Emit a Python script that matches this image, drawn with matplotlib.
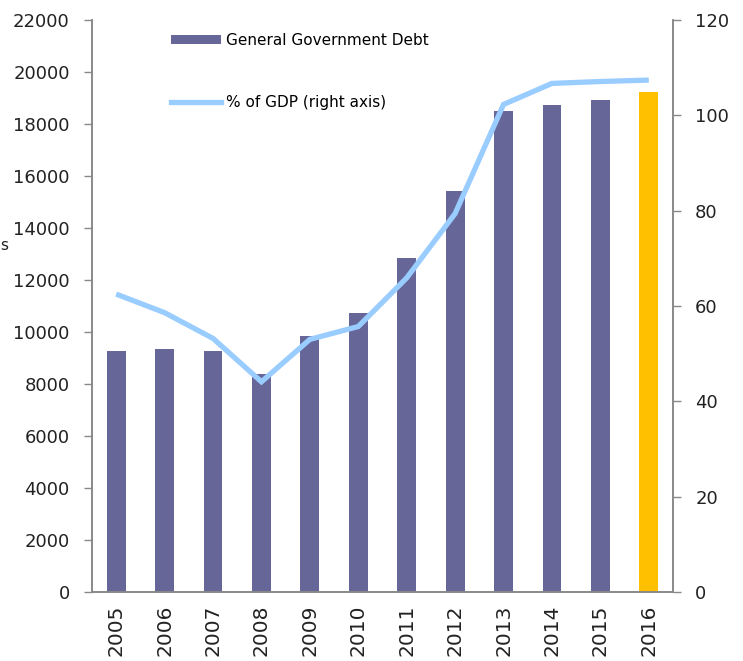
import matplotlib
matplotlib.use("Agg")
import matplotlib.pyplot as plt
from matplotlib.patches import Patch
from matplotlib.lines import Line2D

years = ["2005", "2006", "2007", "2008", "2009", "2010",
         "2011", "2012", "2013", "2014", "2015", "2016"]
debt = [9270, 9340, 9270, 8380, 9840, 10730,
        12850, 15410, 18500, 18720, 18910, 19250]
pct_gdp = [62.5, 58.6, 53.2, 44.1, 53.0, 55.7,
           65.9, 79.4, 102.3, 106.7, 107.1, 107.4]

bar_color = "#666699"
last_color = "#FFC000"
line_color = "#99CCFF"
axis_color = "#898989"

plt.rcParams["font.family"] = ["DejaVu Sans"]

fig = plt.figure(figsize=(7.43, 6.61), dpi=100)
ax = fig.add_axes([0.1238, 0.1044, 0.7820, 0.8653])
ax2 = ax.twinx()

x = list(range(len(years)))
colors = [bar_color] * (len(years) - 1) + [last_color]
ax.bar(x, debt, width=0.39, color=colors, zorder=2)
ax2.plot(x, pct_gdp, color=line_color, lw=3.8, solid_capstyle="butt",
         solid_joinstyle="miter", zorder=3)

ax.set_xlim(-0.5, len(years) - 0.5)
ax.set_ylim(0, 22000)
ax.set_yticks(range(0, 22001, 2000))
ax2.set_ylim(0, 120)
ax2.set_yticks(range(0, 121, 20))

ax.set_xticks(x)
ax.set_xticklabels(years, rotation=90, fontsize=14.5, color="#222222")
ax.tick_params(axis="x", length=0, pad=9)
ax.tick_params(axis="y", labelsize=13, colors=axis_color, labelcolor="#222222",
               length=6, width=1, direction="out", pad=10)
ax2.tick_params(axis="y", labelsize=13, colors=axis_color, labelcolor="#222222",
                length=6, width=1, direction="out", pad=10)

for a in (ax, ax2):
    a.spines["top"].set_visible(False)
    for s in ("left", "right", "bottom"):
        a.spines[s].set_color(axis_color)
        a.spines[s].set_linewidth(1.2)

ax.set_zorder(ax2.get_zorder() - 1)
ax2.patch.set_visible(False)

handles = [Patch(facecolor=bar_color, edgecolor="none"),
           Line2D([0], [0], color=line_color, lw=3.8)]
fig.legend(handles, ["General Government Debt", "% of GDP (right axis)"],
           loc="upper left", bbox_to_anchor=(0.211, 0.971),
           frameon=False, fontsize=11, labelspacing=3.1,
           handlelength=3.3, handleheight=0.6, handletextpad=0.3)

fig.text(0.0, 1 - 245 / 661, "s", fontsize=11, va="center", ha="left",
         color="#222222")

fig.savefig("out.png", dpi=100)
